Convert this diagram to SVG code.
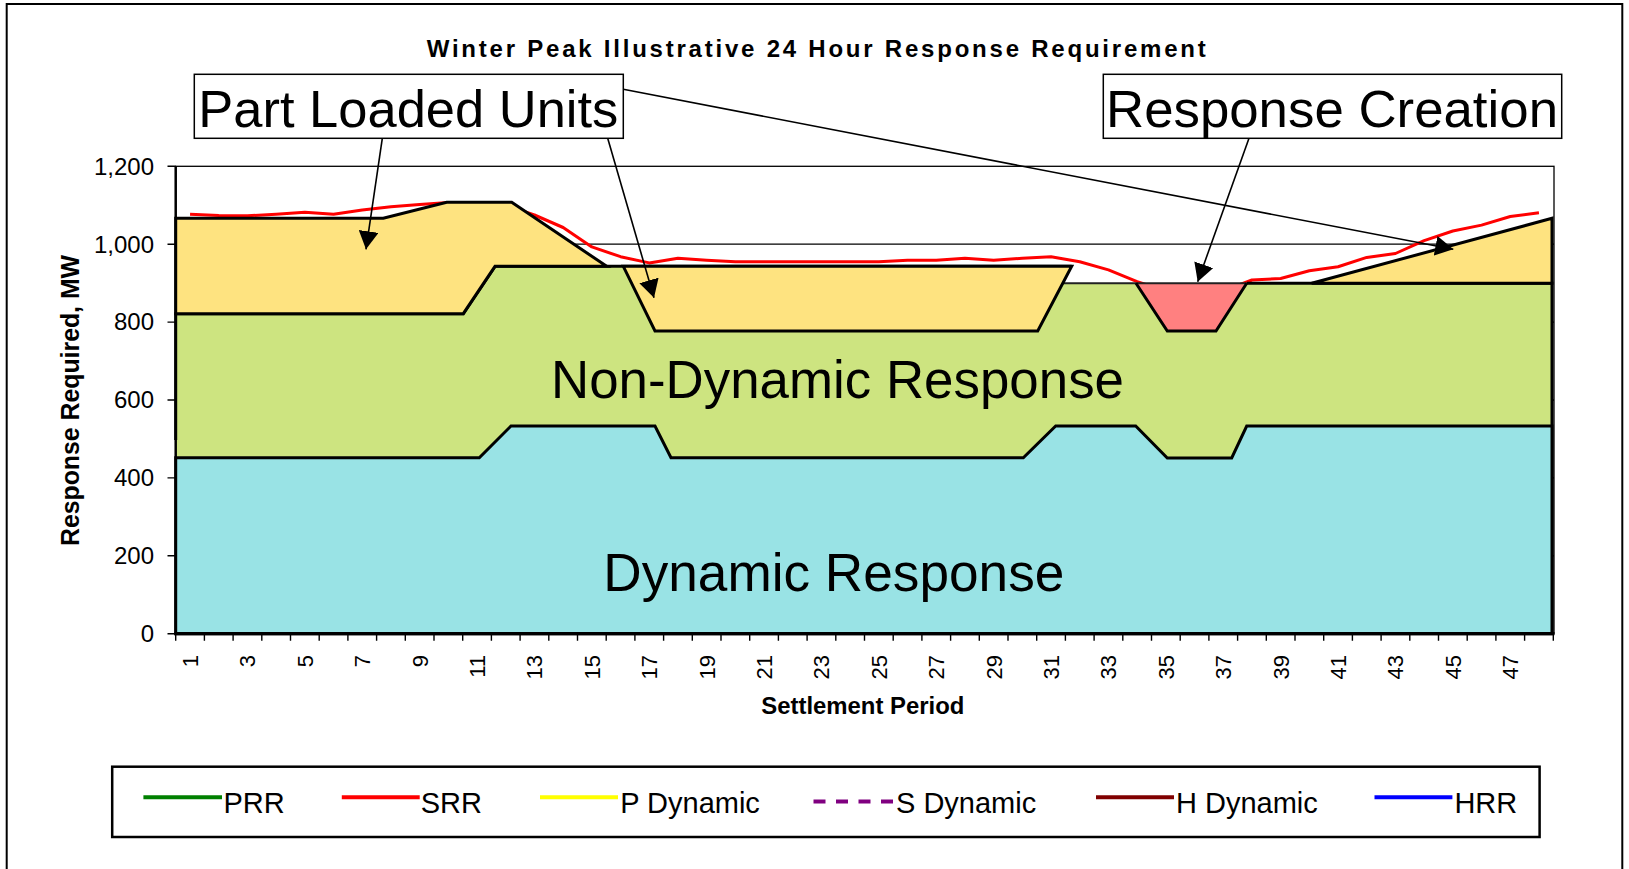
<svg xmlns="http://www.w3.org/2000/svg" width="1629" height="869" viewBox="0 0 1629 869">
<defs>
<style>
text{font-family:"Liberation Sans",Arial,sans-serif;fill:#000}
.b{font-weight:bold}
.shape{stroke:#000;stroke-width:3;stroke-linejoin:miter}
.cy{fill:#99E3E5}
.gr{fill:#CDE480}
.ye{fill:#FEE380}
.rd{fill:#FF8080}
.tick{stroke:#000;stroke-width:1.4;fill:none}
.ytl{font-size:24px;text-anchor:end}
.xtl{font-size:22px;text-anchor:end}
.big{font-size:53px}
.leg{font-size:29px}
.conn{stroke:#000;stroke-width:1.6;fill:none;marker-end:url(#ah)}
.lg{stroke-width:4;fill:none}
</style>
<marker id="ah" markerUnits="userSpaceOnUse" markerWidth="18" markerHeight="20" viewBox="0 0 18 20" refX="18" refY="10" orient="auto">
<path d="M0,0 L18,10 L0,20 Z" fill="#000"/>
</marker>
</defs>
<rect x="0" y="0" width="1629" height="869" fill="#fff"/>
<rect id="frame" x="6.7" y="4" width="1615.6" height="880" fill="none" stroke="#000" stroke-width="2"/>

<text id="title" class="b" x="426.7" y="57" font-size="24" textLength="779" lengthAdjust="spacing">Winter Peak Illustrative 24 Hour Response Requirement</text>

<g id="plot-area">
<rect x="175.7" y="166.3" width="1378.3" height="467.4" fill="#fff" stroke="#000" stroke-width="1.3"/>
<path d="M175.7,244.2H1554M175.7,322.1H1554M175.7,400H1554M175.7,477.9H1554M175.7,555.8H1554" stroke="#000" stroke-width="1.3" fill="none"/>
</g>

<g id="srr-line">
<polyline fill="none" stroke="#FF0000" stroke-width="3" stroke-linejoin="round" points="190.05,214.2 218.75,215.4 247.45,215.8 276.15,214.2 304.85,212.3 333.55,214.2 362.25,209.9 390.95,206.8 419.65,204.5 448.35,202.5 477.05,202.5 505.75,205.3 534.45,215.0 563.15,227.5 591.85,246.9 620.55,256.7 649.25,262.9 677.95,258.2 706.65,260.2 735.35,261.7 764.05,261.7 792.75,261.7 821.45,261.7 850.15,261.7 878.85,261.7 907.55,260.2 936.25,260.2 964.95,258.2 993.65,260.2 1022.35,258.2 1051.05,256.7 1079.75,261.7 1108.45,269.9 1137.15,281.6 1165.85,290.9 1194.55,290.9 1223.25,290.9 1251.95,280.0 1280.65,278.5 1309.35,270.7 1338.05,266.8 1366.75,257.4 1395.45,253.5 1424.15,240.7 1452.85,231.0 1481.55,225.1 1510.25,216.5 1538.95,212.7"/>
</g>

<g id="non-dynamic-response">
<path class="gr" d="M175.7,633.7 L175.7,313.7 L463.3,313.7 L495,266.3 L1071.7,266.3 L1062.8,283.3 L1552,283.3 L1552,633.7 Z"/>
<path class="shape" fill="none" d="M175.7,440 L175.7,313.7 L463.3,313.7 L495,266.3 L1071.7,266.3"/>
<path d="M1062.8,283.3 L1136,283.3" stroke="#222" stroke-width="2" fill="none"/>
<path class="shape" fill="none" d="M1246.7,283.3 L1552,283.3 L1552,633.7"/>
<text class="big" x="551" y="398.3" textLength="573" lengthAdjust="spacingAndGlyphs">Non-Dynamic Response</text>
</g>

<g id="dynamic-response">
<path class="cy shape" d="M175.7,633.7 L175.7,457.7 L479.3,457.7 L511,426 L655,426 L671,457.7 L1023.3,457.7 L1055.7,426 L1135.7,426 L1167.3,458 L1231.7,458 L1246.7,426 L1552,426 L1552,633.7 Z"/>
<text class="big" x="603.3" y="590.7" textLength="461" lengthAdjust="spacingAndGlyphs">Dynamic Response</text>
</g>

<g id="part-loaded-left">
<path class="ye shape" d="M175.7,313.7 L175.7,218.3 L383.3,218.3 L446.7,202.3 L511.7,202.3 L606.7,266.3 L495,266.3 L463.3,313.7 Z"/>
</g>
<g id="part-loaded-middle">
<path class="ye shape" d="M623.3,266.3 L1071.7,266.3 L1037.7,331 L655,331 Z"/>
</g>
<g id="response-creation-area">
<path class="rd" d="M1136,283.3 L1246.7,283.3 L1216,331 L1167.3,331 Z"/>
<path d="M1136,283.3 L1246.7,283.3" stroke="#222" stroke-width="2" fill="none"/>
<path class="shape" fill="none" d="M1136,283.3 L1167.3,331 L1216,331 L1246.7,283.3"/>
</g>
<g id="part-loaded-right">
<path class="ye shape" d="M1311.7,283.3 L1552,218.3 L1552,283.3 Z"/>
</g>

<g id="axes">
<path d="M175.7,166.3V633.7" stroke="#000" stroke-width="2.5"/>
<path d="M174.5,633.7H1554.5" stroke="#000" stroke-width="3.2"/>
<path class="tick" d="M167.5,166.3H175.7M167.5,244.2H175.7M167.5,322.1H175.7M167.5,400H175.7M167.5,477.9H175.7M167.5,555.8H175.7M167.5,633.7H175.7"/>
<path class="tick" d="M175.7,633.7v7M204.4,633.7v7M233.1,633.7v7M261.8,633.7v7M290.5,633.7v7M319.2,633.7v7M347.9,633.7v7M376.6,633.7v7M405.3,633.7v7M434,633.7v7M462.7,633.7v7M491.4,633.7v7M520.1,633.7v7M548.8,633.7v7M577.5,633.7v7M606.2,633.7v7M634.9,633.7v7M663.6,633.7v7M692.3,633.7v7M721,633.7v7M749.7,633.7v7M778.4,633.7v7M807.1,633.7v7M835.8,633.7v7M864.5,633.7v7M893.2,633.7v7M921.9,633.7v7M950.6,633.7v7M979.3,633.7v7M1008,633.7v7M1036.7,633.7v7M1065.4,633.7v7M1094.1,633.7v7M1122.8,633.7v7M1151.5,633.7v7M1180.2,633.7v7M1208.9,633.7v7M1237.6,633.7v7M1266.3,633.7v7M1295,633.7v7M1323.7,633.7v7M1352.4,633.7v7M1381.1,633.7v7M1409.8,633.7v7M1438.5,633.7v7M1467.2,633.7v7M1495.9,633.7v7M1524.6,633.7v7M1553.3,633.7v7"/>
<g class="ytl">
<text x="154" y="642">0</text>
<text x="154" y="564.1">200</text>
<text x="154" y="486.2">400</text>
<text x="154" y="408.3">600</text>
<text x="154" y="330.4">800</text>
<text x="154" y="252.5">1,000</text>
<text x="154" y="174.6">1,200</text>
</g>
<g class="xtl">
<text transform="translate(198.05,655) rotate(-90)">1</text>
<text transform="translate(255.45,655) rotate(-90)">3</text>
<text transform="translate(312.85,655) rotate(-90)">5</text>
<text transform="translate(370.25,655) rotate(-90)">7</text>
<text transform="translate(427.65,655) rotate(-90)">9</text>
<text transform="translate(485.05,655) rotate(-90)">11</text>
<text transform="translate(542.45,655) rotate(-90)">13</text>
<text transform="translate(599.85,655) rotate(-90)">15</text>
<text transform="translate(657.25,655) rotate(-90)">17</text>
<text transform="translate(714.65,655) rotate(-90)">19</text>
<text transform="translate(772.05,655) rotate(-90)">21</text>
<text transform="translate(829.45,655) rotate(-90)">23</text>
<text transform="translate(886.85,655) rotate(-90)">25</text>
<text transform="translate(944.25,655) rotate(-90)">27</text>
<text transform="translate(1001.65,655) rotate(-90)">29</text>
<text transform="translate(1059.05,655) rotate(-90)">31</text>
<text transform="translate(1116.45,655) rotate(-90)">33</text>
<text transform="translate(1173.85,655) rotate(-90)">35</text>
<text transform="translate(1231.25,655) rotate(-90)">37</text>
<text transform="translate(1288.65,655) rotate(-90)">39</text>
<text transform="translate(1346.05,655) rotate(-90)">41</text>
<text transform="translate(1403.45,655) rotate(-90)">43</text>
<text transform="translate(1460.85,655) rotate(-90)">45</text>
<text transform="translate(1518.25,655) rotate(-90)">47</text>
</g>
<text class="b" x="862.8" y="714" font-size="23" text-anchor="middle" textLength="203" lengthAdjust="spacingAndGlyphs">Settlement Period</text>
<text class="b" transform="translate(78.5,400.5) rotate(-90)" font-size="25" text-anchor="middle" textLength="291" lengthAdjust="spacingAndGlyphs">Response Required, MW</text>
</g>

<g id="connectors">
<path class="conn" d="M382.3,138.3 L366,249.3"/>
<path class="conn" d="M607.7,138.3 L654,297.7"/>
<path class="conn" d="M623.3,89.3 L1453.3,249.3"/>
<path class="conn" d="M1249,138.3 L1197.7,281.7"/>
</g>

<g id="callout-part-loaded">
<rect x="194.3" y="74.3" width="429" height="64" fill="#fff" stroke="#000" stroke-width="1.5"/>
<text x="198.3" y="127.3" font-size="52.5" textLength="420" lengthAdjust="spacingAndGlyphs">Part Loaded Units</text>
</g>
<g id="callout-response-creation">
<rect x="1103.3" y="74.3" width="458.4" height="64" fill="#fff" stroke="#000" stroke-width="1.5"/>
<text x="1106" y="127.3" font-size="52.5" textLength="452" lengthAdjust="spacingAndGlyphs">Response Creation</text>
</g>

<g id="legend">
<rect x="112.2" y="766.7" width="1427.4" height="70.3" fill="#fff" stroke="#000" stroke-width="2.5"/>
<path class="lg" stroke="#008000" d="M143.4,797.3H222"/>
<text class="leg" x="223.4" y="812.7">PRR</text>
<path class="lg" stroke="#FF0000" d="M341.8,797.3H419.7"/>
<text class="leg" x="420.7" y="812.7">SRR</text>
<path class="lg" stroke="#FFFF00" d="M540,797.3H618"/>
<text class="leg" x="620.2" y="812.7">P Dynamic</text>
<path class="lg" stroke="#800080" stroke-dasharray="12,10.5" d="M813.5,801.5H894"/>
<text class="leg" x="896" y="812.7">S Dynamic</text>
<path class="lg" stroke="#800000" d="M1096,797.3H1174"/>
<text class="leg" x="1176" y="812.7">H Dynamic</text>
<path class="lg" stroke="#0000FF" d="M1374.5,797.3H1452.4"/>
<text class="leg" x="1454.4" y="812.7">HRR</text>
</g>
</svg>
